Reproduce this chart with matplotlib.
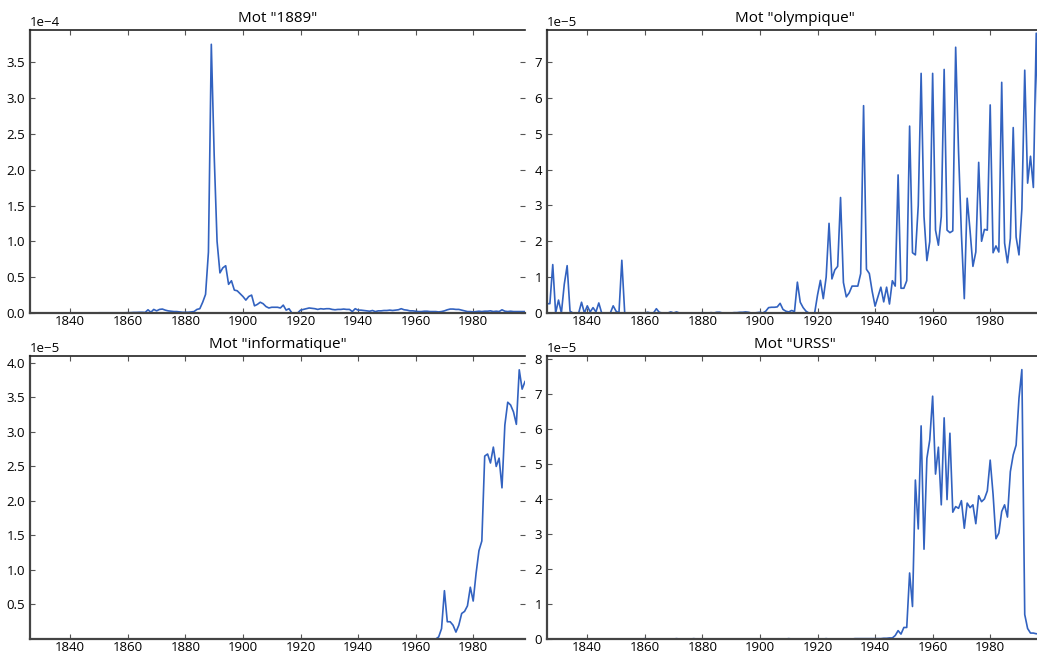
import numpy as np
import matplotlib.pyplot as plt

# annees 1826 -> 1998 (173 valeurs)
years = np.arange(1826, 1999)

# frequence du mot "1889" (x 1e-4)
f_1889 = [0, 0, 0, 0,
          0, 0, 0, 0, 0, 0, 0, 0, 0, 0,
          0, 0, 0, 0, 0, 0, 0, 0, 0, 0,
          0.003, 0.003, 0.003, 0.003, 0.003, 0.003, 0.003, 0.003, 0.003, 0.003,
          0.005, 0.005, 0.008, 0.008, 0.01, 0.01, 0.008, 0.045, 0.01, 0.05,
          0.03, 0.05, 0.055, 0.04, 0.03, 0.025, 0.02, 0.02, 0.015, 0.01,
          0.01, 0.01, 0.015, 0.02, 0.05, 0.06, 0.15, 0.26, 0.85, 3.75,
          2.2, 1.0, 0.56, 0.63, 0.66, 0.40, 0.45, 0.32, 0.31, 0.27,
          0.23, 0.18, 0.23, 0.25, 0.10, 0.12, 0.15, 0.13, 0.09, 0.07,
          0.08, 0.08, 0.08, 0.07, 0.11, 0.04, 0.06, 0.0, 0.0, 0.0,
          0.04, 0.05, 0.06, 0.07, 0.065, 0.06, 0.05, 0.06, 0.055, 0.06,
          0.06, 0.05, 0.045, 0.05, 0.05, 0.055, 0.05, 0.05, 0.02, 0.06,
          0.04, 0.04, 0.035, 0.03, 0.025, 0.035, 0.02, 0.03, 0.03, 0.035,
          0.035, 0.04, 0.035, 0.04, 0.045, 0.06, 0.045, 0.04, 0.03, 0.03,
          0.025, 0.02, 0.02, 0.025, 0.025, 0.02, 0.02, 0.02, 0.015, 0.02,
          0.03, 0.045, 0.055, 0.055, 0.05, 0.05, 0.04, 0.03, 0.02, 0.02,
          0.015, 0.02, 0.025, 0.02, 0.025, 0.025, 0.03, 0.02, 0.025, 0.02,
          0.045, 0.025, 0.02, 0.025, 0.02, 0.02, 0.02, 0.02, 0.02]

# frequence du mot "olympique" (x 1e-5)
f_olymp = [0.26, 0.26, 1.35, 0.0,
           0.36, 0.0, 0.8, 1.32, 0.05, 0.0, 0.0, 0.0, 0.3, 0.0,
           0.2, 0.03, 0.15, 0.03, 0.28, 0.0, 0.0, 0.0, 0.0, 0.2,
           0.05, 0.0, 1.47, 0.0, 0.0, 0.0, 0.0, 0.0, 0.0, 0.0,
           0.0, 0.02, 0.0, 0.0, 0.12, 0.02, 0.0, 0.0, 0.0, 0.03,
           0.0, 0.03, 0.0, 0.0, 0.0, 0.0, 0.0, 0.0, 0.0, 0.0,
           0.01, 0.0, 0.0, 0.01, 0.0, 0.02, 0.02, 0.0, 0.0, 0.0,
           0.0, 0.01, 0.01, 0.02, 0.02, 0.03, 0.02, 0.0, 0.0, 0.01,
           0.02, 0.0, 0.05, 0.15, 0.16, 0.16, 0.17, 0.27, 0.1, 0.05,
           0.03, 0.07, 0.04, 0.86, 0.3, 0.15, 0.05, 0.0, 0.0, 0.0,
           0.5, 0.91, 0.4, 1.0, 2.5, 0.95, 1.2, 1.3, 3.22, 0.85,
           0.45, 0.56, 0.75, 0.75, 0.75, 1.1, 5.78, 1.22, 1.1, 0.6,
           0.19, 0.45, 0.72, 0.31, 0.72, 0.25, 0.9, 0.75, 3.85, 0.69,
           0.69, 0.9, 5.21, 1.68, 1.62, 3.0, 6.68, 2.69, 1.46, 1.99,
           6.68, 2.31, 1.89, 2.69, 6.79, 2.31, 2.24, 2.29, 7.41, 4.5,
           2.2, 0.4, 3.2, 2.3, 1.3, 1.7, 4.2, 2.0, 2.33, 2.31,
           5.8, 1.68, 1.87, 1.7, 6.43, 1.95, 1.4, 2.08, 5.17, 2.12,
           1.62, 2.9, 6.77, 3.62, 4.37, 3.5, 7.8, 4.0, 3.5]

# frequence du mot "informatique" (x 1e-5), nulle jusqu'en 1967
f_info = [0] * 142 + [
          0.03, 0.15,
          0.7, 0.25, 0.25, 0.2, 0.1, 0.2, 0.37, 0.4, 0.48, 0.75,
          0.55, 0.95, 1.28, 1.42, 2.65, 2.68, 2.55, 2.78, 2.5, 2.62,
          2.19, 3.1, 3.43, 3.39, 3.29, 3.11, 3.9, 3.62, 3.73]

# frequence du mot "URSS" (x 1e-5)
f_urss = [0, 0, 0, 0,
          0, 0, 0, 0, 0, 0, 0, 0, 0, 0,
          0, 0, 0, 0, 0, 0, 0, 0, 0, 0,
          0, 0, 0, 0, 0, 0, 0, 0, 0, 0,
          0.01, 0, 0, 0, 0, 0, 0, 0, 0, 0,
          0, 0.01, 0, 0, 0, 0, 0, 0.01, 0, 0,
          0, 0, 0, 0, 0, 0, 0, 0, 0, 0,
          0, 0, 0, 0, 0, 0, 0, 0, 0, 0,
          0, 0, 0, 0, 0, 0, 0, 0, 0, 0,
          0.01, 0, 0, 0, 0, 0, 0, 0, 0, 0,
          0, 0, 0, 0.01, 0, 0, 0, 0, 0, 0,
          0, 0, 0, 0.01, 0.01, 0.01, 0.01, 0.01, 0.01, 0.01,
          0.01, 0.01, 0.01, 0.02, 0.02, 0.03, 0.03, 0.1, 0.24, 0.14,
          0.33, 0.33, 1.89, 0.93, 4.55, 3.15, 6.1, 2.57, 5.17, 5.7,
          6.95, 4.72, 5.49, 3.84, 6.33, 3.99, 5.89, 3.63, 3.79, 3.74,
          3.96, 3.17, 3.89, 3.76, 3.84, 3.3, 4.1, 3.93, 4.01, 4.24,
          5.12, 4.14, 2.87, 3.03, 3.65, 3.84, 3.49, 4.79, 5.27, 5.55,
          6.89, 7.71, 0.7, 0.3, 0.17, 0.17, 0.15, 0.15, 0.15]

words = ['1889', 'olympique', 'informatique', 'URSS']
series = [f_1889, f_olymp, f_info, f_urss]
scales = [1e-4, 1e-5, 1e-5, 1e-5]
ytops = [3.95e-4, 7.89e-5, 4.1e-5, 8.1e-5]
xticks = [1840, 1860, 1880, 1900, 1920, 1940, 1960, 1980]

plt.rcParams['font.family'] = ['Open Sans', 'DejaVu Sans']
plt.rcParams['xtick.direction'] = 'in'
plt.rcParams['ytick.direction'] = 'in'
plt.rcParams['xtick.top'] = True
plt.rcParams['ytick.right'] = True
plt.rcParams['xtick.labelsize'] = 9.5
plt.rcParams['ytick.labelsize'] = 9.5
plt.rcParams['xtick.major.pad'] = 1.5

W, H = 1037, 655
fig = plt.figure(figsize=(W / 100, H / 100), dpi=100)

# positions en pixels: gauche, haut, largeur, hauteur
boxes = [(30, 30, 495, 283), (547, 30, 495, 283),
         (30, 356, 495, 283), (547, 356, 495, 283)]

for i in range(4):
    l, t, w, h = boxes[i]
    ax = fig.add_axes([l / W, (H - t - h) / H, w / W, h / H])
    ax.plot(years, np.array(series[i]) * scales[i], color='#3262c0', lw=1.2)
    ax.set_xlim(1826, 1998)
    ax.set_ylim(0, ytops[i])
    ax.set_xticks(xticks)
    if words[i] == 'informatique':
        ax.set_yticks(np.arange(0.5, 4.01, 0.5) * 1e-5)
    ax.ticklabel_format(axis='y', style='sci', scilimits=(0, 0))
    ax.set_title('Mot "%s"' % words[i], fontsize=11)
    ax.tick_params(length=3.5, width=0.8, color='#555555')
    ax.spines['right'].set_visible(False)
    for s in ['left', 'bottom']:
        ax.spines[s].set_linewidth(1.6)
        ax.spines[s].set_color('#444444')
    ax.spines['top'].set_linewidth(1.2)
    ax.spines['top'].set_color('#222222')

fig.savefig('out.png', dpi=100)
